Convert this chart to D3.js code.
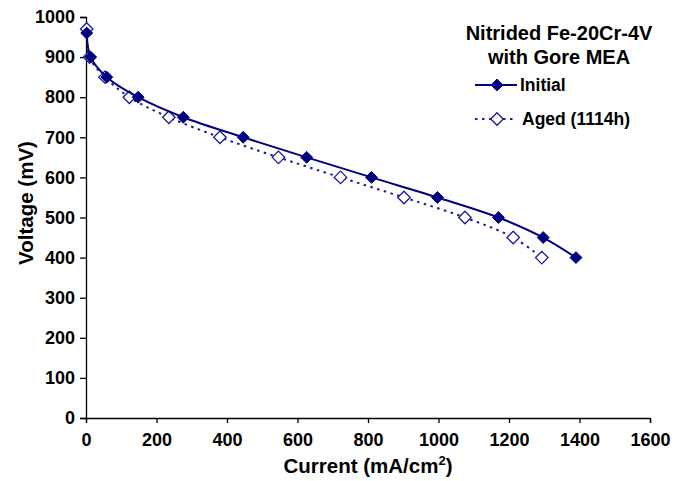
<!DOCTYPE html>
<html>
<head>
<meta charset="utf-8">
<script src="https://cdn.jsdelivr.net/npm/d3@7/dist/d3.min.js"></script>
<style>
  body { margin: 0; background: #fff; }
  svg text { font-family: Arial, "Liberation Sans", sans-serif; font-weight: bold; fill: #000; }
  .axis path, .axis line { stroke: #000; stroke-width: 1.3; }
</style>
</head>
<body>
<div id="chart"></div>
<script>
// data
var initialCurrent = [2, 13, 59, 148, 276, 446, 626, 810, 997, 1170, 1297, 1390];
var initialVoltage = [960, 900, 850, 800, 750, 700, 650, 600, 550, 500, 450, 400];
var agedCurrent = [2, 10, 54, 123, 235, 380, 546, 722, 902, 1075, 1212, 1293];
var agedVoltage = [970, 900, 850, 800, 750, 700, 650, 600, 550, 500, 450, 400];
var xTicks = [0, 200, 400, 600, 800, 1000, 1200, 1400, 1600];
var yTicks = [0, 100, 200, 300, 400, 500, 600, 700, 800, 900, 1000];
var legendTitle = ["Nitrided Fe-20Cr-4V", "with Gore MEA"];
var seriesNames = ["Initial", "Aged (1114h)"];

var W = 681, H = 481;
var margin = {top: 17, right: 31, bottom: 63, left: 86};
var width = W - margin.left - margin.right;
var height = H - margin.top - margin.bottom;

var svg = d3.select("#chart").append("svg")
    .attr("width", W)
    .attr("height", H);

var g = svg.append("g")
    .attr("transform", "translate(" + margin.left + "," + margin.top + ")");

var x = d3.scaleLinear().domain([0, 1600]).range([0, width]);
var y = d3.scaleLinear().domain([0, 1000]).range([height, 0]);

var xAxis = d3.axisBottom(x).tickValues(xTicks).tickFormat(d3.format("d"))
    .tickSize(5).tickPadding(10).tickSizeOuter(5);
var yAxis = d3.axisLeft(y).tickValues(yTicks).tickFormat(d3.format("d"))
    .tickSize(6).tickPadding(5).tickSizeOuter(6);

g.append("g")
    .attr("class", "axis")
    .attr("transform", "translate(0," + height + ")")
    .call(xAxis)
    .selectAll("text").style("font-size", "18px");

g.append("g")
    .attr("class", "axis")
    .call(yAxis)
    .selectAll("text").style("font-size", "18px");

g.selectAll(".axis text").attr("fill", "#000");

// axis titles
var xt = svg.append("text")
    .attr("x", margin.left + width / 2)
    .attr("y", 473)
    .style("text-anchor", "middle")
    .style("font-size", "20.5px");
xt.append("tspan").text("Current (mA/cm");
xt.append("tspan").attr("dy", -8).style("font-size", "13px").text("2");
xt.append("tspan").attr("dy", 8).text(")");

svg.append("text")
    .attr("transform", "translate(33,203) rotate(-90)")
    .style("text-anchor", "middle")
    .style("font-size", "20.5px")
    .text("Voltage (mV)");

var initialData = initialCurrent.map(function(d, i) { return [d, initialVoltage[i]]; });
var agedData = agedCurrent.map(function(d, i) { return [d, agedVoltage[i]]; });

var line = d3.line()
    .x(function(d) { return x(d[0]); })
    .y(function(d) { return y(d[1]); })
    .curve(d3.curveCatmullRom.alpha(0.5));

var diamond = d3.symbol().type(d3.symbolDiamond2);

// aged series
g.append("path")
    .datum(agedData)
    .attr("d", line)
    .attr("fill", "none")
    .attr("stroke", "#1a1a9a")
    .attr("stroke-width", 2)
    .attr("stroke-dasharray", "2.5,4.5");

g.selectAll(".aged")
    .data(agedData)
    .enter().append("path")
    .attr("class", "aged")
    .attr("transform", function(d) { return "translate(" + x(d[0]) + "," + y(d[1]) + ")"; })
    .attr("d", diamond.size(100))
    .attr("fill", "#fff")
    .attr("stroke", "#1a1a9a")
    .attr("stroke-width", 1.3);

// initial series
g.append("path")
    .datum(initialData)
    .attr("d", line)
    .attr("fill", "none")
    .attr("stroke", "#000080")
    .attr("stroke-width", 2);

g.selectAll(".initial")
    .data(initialData)
    .enter().append("path")
    .attr("class", "initial")
    .attr("transform", function(d) { return "translate(" + x(d[0]) + "," + y(d[1]) + ")"; })
    .attr("d", diamond.size(90))
    .attr("fill", "#000080")
    .attr("stroke", "#000080")
    .attr("stroke-width", 1);

// legend
var legend = svg.append("g");
legend.selectAll(".ltitle")
    .data(legendTitle)
    .enter().append("text")
    .attr("x", 559)
    .attr("y", function(d, i) { return 40 + i * 24; })
    .style("text-anchor", "middle")
    .style("font-size", "20px")
    .text(function(d) { return d; });

legend.append("line")
    .attr("x1", 475).attr("x2", 517).attr("y1", 85).attr("y2", 85)
    .attr("stroke", "#000080").attr("stroke-width", 2);
legend.append("path")
    .attr("transform", "translate(497,85)")
    .attr("d", diamond.size(90))
    .attr("fill", "#000080").attr("stroke", "#000080");
legend.append("text")
    .attr("x", 520).attr("y", 91)
    .style("font-size", "17.5px")
    .text(seriesNames[0]);

legend.append("line")
    .attr("x1", 475).attr("x2", 517).attr("y1", 119).attr("y2", 119)
    .attr("stroke", "#1a1a9a").attr("stroke-width", 2)
    .attr("stroke-dasharray", "2.5,4.5");
legend.append("path")
    .attr("transform", "translate(497,119)")
    .attr("d", diamond.size(100))
    .attr("fill", "#fff").attr("stroke", "#1a1a9a").attr("stroke-width", 1.3);
legend.append("text")
    .attr("x", 522).attr("y", 125)
    .style("font-size", "17.5px")
    .text(seriesNames[1]);
</script>
</body>
</html>
